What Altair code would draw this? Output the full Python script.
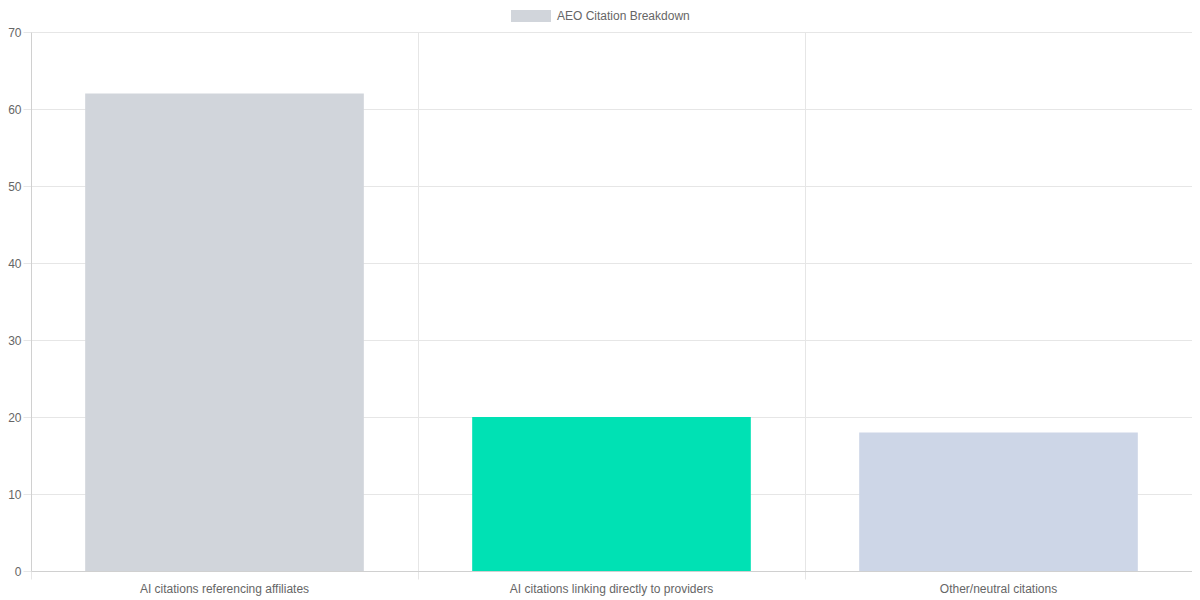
import altair as alt
import pandas as pd

categories = [
    "AI citations referencing affiliates",
    "AI citations linking directly to providers",
    "Other/neutral citations",
]
values = [62, 20, 18]
colors = ["#d1d5db", "#00e1b4", "#cdd6e7"]
series_label = "AEO Citation Breakdown"
y_ticks = [0, 10, 20, 30, 40, 50, 60, 70]

df = pd.DataFrame({"category": categories, "value": values})

FONT = "Liberation Sans"
TXT = "#666666"
GRID = "#e6e6e6"
AXIS = "#d0d0d0"

bars = alt.Chart(df).mark_bar(width={"band": 0.72}).encode(
    x=alt.X(
        "category:N",
        sort=categories,
        scale=alt.Scale(paddingInner=0, paddingOuter=0),
        axis=alt.Axis(
            title=None,
            labelAngle=0,
            labelLimit=0,
            bandPosition=0,
            grid=True,
            gridColor=GRID,
            tickColor=GRID,
            tickSize=8,
            labelPadding=4,
            domainColor=AXIS,
            labelColor=TXT,
            labelFontSize=12,
            labelFont=FONT,
        ),
    ),
    y=alt.Y(
        "value:Q",
        scale=alt.Scale(domain=[0, 70], nice=False),
        axis=alt.Axis(
            title=None,
            values=y_ticks,
            grid=True,
            gridColor=GRID,
            tickColor=GRID,
            tickSize=8,
            labelPadding=2,
            domainColor=AXIS,
            labelColor=TXT,
            labelFontSize=12,
            labelFont=FONT,
        ),
    ),
    color=alt.Color(
        "category:N",
        scale=alt.Scale(domain=categories, range=colors),
        legend=alt.Legend(
            values=[categories[0]],
            labelExpr="'" + series_label + "'",
            title=None,
            orient="none",
            legendX=480,
            legendY=-36,
            direction="horizontal",
            symbolType="M-1,-0.3H1V0.3H-1Z",
            symbolSize=1600,
            symbolStrokeWidth=0,
            labelFontSize=12,
            labelColor=TXT,
            labelFont=FONT,
            labelOffset=6,
            padding=0,
        ),
    ),
)

chart = bars.properties(
    width=1161,
    height=539,
    padding={"left": 23, "top": 24, "right": 0, "bottom": 25},
    autosize=alt.AutoSizeParams(type="none"),
    background="white",
).configure_view(stroke=None)

chart.save("out.html", embed_options={"renderer": "svg", "actions": False})
